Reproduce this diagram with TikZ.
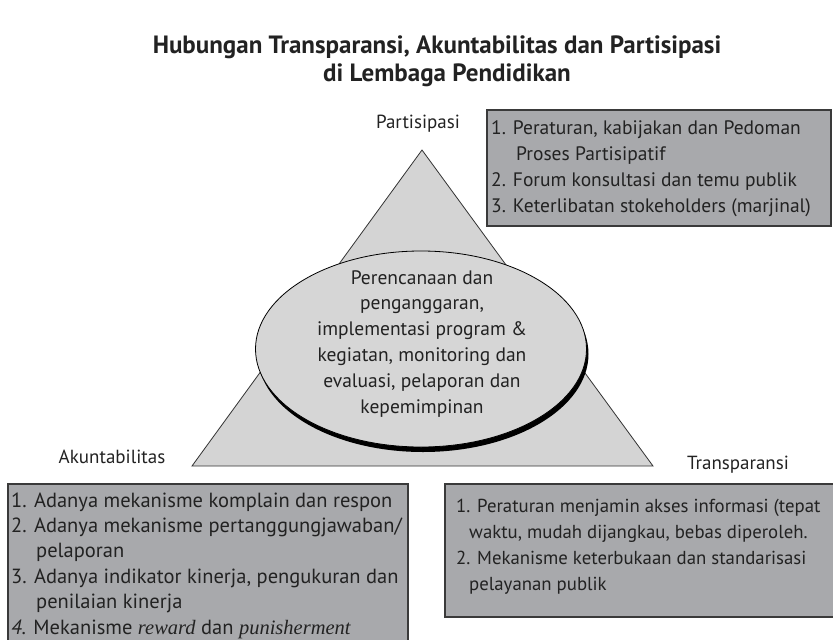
\documentclass[tikz,border=0pt]{standalone}
\usepackage{fontspec}
\setmainfont{PT Sans}
\newfontfamily\tnr{Liberation Serif}
\usetikzlibrary{shapes.geometric}
\definecolor{trifill}{HTML}{D4D4D4}
\definecolor{ellfill}{HTML}{D6D6D6}
\definecolor{boxfill}{HTML}{A8A9AC}
\definecolor{boxline}{HTML}{3A3A3A}
\definecolor{ink}{HTML}{222222}
\tikzset{
  infobox/.style={draw=boxline, fill=boxfill, line width=1.2pt},
  boxtext/.style={anchor=base west, inner sep=0pt, align=left, text=ink,
    font=\fontsize{19.5}{26}\selectfont},
  cornerlabel/.style={inner sep=0pt, text=ink, font=\fontsize{19}{22}\selectfont},
}
\begin{document}
\begin{tikzpicture}[x=1pt,y=-1pt]
\useasboundingbox (0,0) rectangle (833,640);
% title
\node[anchor=base, inner sep=0pt, align=center, text=ink,
  font=\bfseries\fontsize{25}{28}\selectfont] (title) at (437,81)
  {Hubungan Transparansi, Akuntabilitas dan Partisipasi\\\hspace*{20pt}di Lembaga Pendidikan};
% triangle
\coordinate (apex) at (422,150);
\coordinate (bl) at (192,466);
\coordinate (br) at (653,466);
\draw[fill=trifill, draw=black!80, line width=0.8pt] (apex) -- (br) -- (bl) -- cycle;
% ellipse with shadow
\node[ellipse, fill=black, minimum width=331pt, minimum height=196pt, inner sep=0pt] (shadow) at (423,354) {};
\node[ellipse, draw=black, fill=ellfill, line width=0.8pt, minimum width=331pt, minimum height=196pt, inner sep=0pt] (core) at (421,349) {};
\node[anchor=base, inner sep=0pt, align=center, text=ink,
  font=\fontsize{19.5}{25.8}\selectfont] (coretext) at (422,413)
  {Perencanaan dan\\penganggaran,\\implementasi program \&\\kegiatan, monitoring dan\\evaluasi, pelaporan dan\\kepemimpinan};
% corner labels
\node[cornerlabel] (lp) at (418,124) {Partisipasi};
\node[cornerlabel] (la) at (112,457) {Akuntabilitas};
\node[cornerlabel] (lt) at (738,465) {Transparansi};
% boxes
\draw[infobox] (487,110) rectangle (831,226);
\node[boxtext] (tp) at (491,212)
  {1. Peraturan, kabijakan dan Pedoman\\
   \hspace*{25pt}Proses Partisipatif\\
   2. Forum konsultasi dan temu publik\\
   3. Keterlibatan stokeholders (marjinal)};
\draw[infobox] (8,484) rectangle (408,660);
\node[boxtext, font=\fontsize{20.5}{25.4}\selectfont] (ta) at (11,634)
  {1. Adanya mekanisme komplain dan respon\\
   2. Adanya mekanisme pertanggungjawaban/\\
   \hspace*{25pt}pelaporan\\
   3. Adanya indikator kinerja, pengukuran dan\\
   \hspace*{25pt}penilaian kinerja\\
   \textit{4.} Mekanisme {\tnr\itshape reward} dan {\tnr\itshape punisherment}};
\draw[infobox] (445,484) rectangle (840,617);
\node[boxtext, font=\fontsize{18.8}{26}\selectfont] (tt) at (456,590)
  {1. Peraturan menjamin akses informasi (tepat\\
   \hspace*{13pt}waktu, mudah dijangkau, bebas diperoleh.\\
   2. Mekanisme keterbukaan dan standarisasi\\
   \hspace*{13pt}pelayanan publik};
\end{tikzpicture}
\end{document}
